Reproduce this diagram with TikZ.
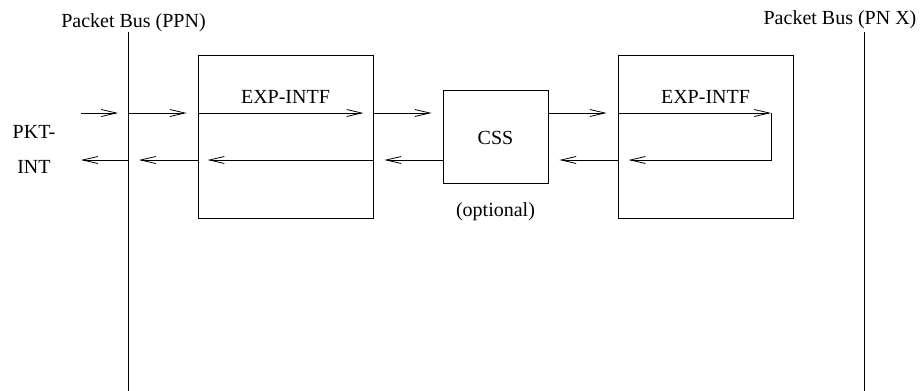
\documentclass[tikz,border=0pt]{standalone}
\usepackage{fontspec}
\setmainfont{Liberation Serif}
\usetikzlibrary{arrows.meta}

\begin{document}
\begin{tikzpicture}[x=1pt,y=-1pt,line width=0.8pt,
    font=\fontsize{20}{24}\selectfont,
    blok/.style={draw,inner sep=0pt,minimum height=163pt,minimum width=175pt},
    pijl/.style={-{Straight Barb[length=15pt,width=7pt]},shorten >=11pt}]

    \useasboundingbox (0,0) rectangle (922,391);

    % Rows of the two directions
    \coordinate (top) at (0,113);
    \coordinate (bot) at (0,160);

    % Packet buses with their labels
    \coordinate (ppnA) at (128,32);
    \coordinate (ppnB) at (128,391);
    \coordinate (pnxA) at (864,32);
    \coordinate (pnxB) at (864,391);
    \draw (ppnA) -- (ppnB);
    \draw (pnxA) -- (pnxB);
    \node[anchor=base] (ppnlbl) at (133.5,27) {Packet Bus (PPN)};
    \node[anchor=base] (pnxlbl) at (840,24) {Packet Bus (PN X)};

    % Interface boxes and the optional switch
    \node[blok] (exp1) at (285.5,136.5) {};
    \node[blok,minimum width=105pt,minimum height=93pt] (css) at (495.5,136.5) {};
    \node[blok] (exp2) at (705.5,136.5) {};
    \node (csslbl) at (495.5,138) {CSS};
    \node (exp1lbl) at (285.5,96.5) {EXP-INTF};
    \node (exp2lbl) at (705.5,96.5) {EXP-INTF};
    \node[anchor=base] (optlbl) at (495.5,216) {(optional)};
    \node[align=center,font=\fontsize{20}{35}\selectfont] (pkt) at (34,149) {PKT-\\INT};

    % Free ends and the loop back
    \coordinate (pktin) at (81,113);
    \coordinate (pktout) at (81,160);
    \coordinate (turn) at (771,113);

    % Upper row, to the right
    \draw[pijl,shorten >=10pt] (pktin) -- (ppnA |- top);
    \draw[pijl] (ppnA |- top) -- (exp1.west |- top);
    \draw[pijl,shorten >=10pt] (exp1.west |- top) -- (exp1.east |- top);
    \draw[pijl] (exp1.east |- top) -- (css.west |- top);
    \draw[pijl] (css.east |- top) -- (exp2.west |- top);
    \draw[pijl,shorten >=0pt] (exp2.west |- top) -- (turn);
    \draw[pijl] (turn) -- (turn |- bot) -- (exp2.west |- bot);

    % Lower row, to the left
    \draw[pijl] (exp2.west |- bot) -- (css.east |- bot);
    \draw[pijl] (css.west |- bot) -- (exp1.east |- bot);
    \draw[pijl,shorten >=10pt] (exp1.east |- bot) -- (exp1.west |- bot);
    \draw[pijl] (exp1.west |- bot) -- (ppnA |- bot);
    \draw[pijl,shorten >=0pt] (ppnA |- bot) -- (pktout);

\end{tikzpicture}
\end{document}
